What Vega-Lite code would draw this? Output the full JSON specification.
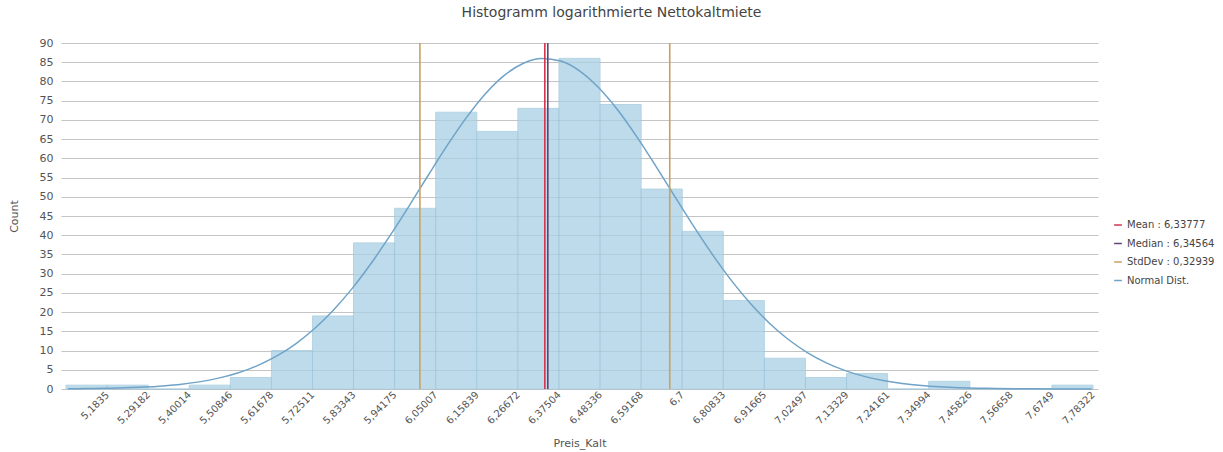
{
  "$schema": "https://vega.github.io/schema/vega-lite/v6.json",
  "width": 1037,
  "height": 346,
  "autosize": {"type": "none"},
  "padding": {"left": 61, "top": 43, "right": 125, "bottom": 63},
  "background": "white",
  "title": {
    "text": "Histogramm logarithmierte Nettokaltmiete",
    "font": "DejaVu Sans",
    "fontSize": 14,
    "fontWeight": "normal",
    "color": "#444444",
    "anchor": "middle",
    "dx": 32,
    "offset": 17
  },
  "config": {
    "view": {"stroke": null},
    "axis": {"labelFont": "DejaVu Sans", "titleFont": "DejaVu Sans", "labelColor": "#555555", "titleColor": "#555555", "titleFontWeight": "normal"},
    "axisY": {"tickCount": 18, "labelFontSize": 11, "labelPadding": 8, "ticks": false, "domain": false, "gridColor": "#c4c4c4", "gridWidth": 1, "titleFontSize": 11, "titlePadding": 20},
    "legend": {"labelFont": "DejaVu Sans"}
  },
  "datasets": {
    "bins": [
      {"bin_start": 5.07518, "bin_end": 5.1835, "count": 1},
      {"bin_start": 5.1835, "bin_end": 5.29182, "count": 1},
      {"bin_start": 5.29182, "bin_end": 5.40014, "count": 0},
      {"bin_start": 5.40014, "bin_end": 5.50846, "count": 1},
      {"bin_start": 5.50846, "bin_end": 5.61678, "count": 3},
      {"bin_start": 5.61678, "bin_end": 5.72511, "count": 10},
      {"bin_start": 5.72511, "bin_end": 5.83343, "count": 19},
      {"bin_start": 5.83343, "bin_end": 5.94175, "count": 38},
      {"bin_start": 5.94175, "bin_end": 6.05007, "count": 47},
      {"bin_start": 6.05007, "bin_end": 6.15839, "count": 72},
      {"bin_start": 6.15839, "bin_end": 6.26672, "count": 67},
      {"bin_start": 6.26672, "bin_end": 6.37504, "count": 73},
      {"bin_start": 6.37504, "bin_end": 6.48336, "count": 86},
      {"bin_start": 6.48336, "bin_end": 6.59168, "count": 74},
      {"bin_start": 6.59168, "bin_end": 6.7, "count": 52},
      {"bin_start": 6.7, "bin_end": 6.80833, "count": 41},
      {"bin_start": 6.80833, "bin_end": 6.91665, "count": 23},
      {"bin_start": 6.91665, "bin_end": 7.02497, "count": 8},
      {"bin_start": 7.02497, "bin_end": 7.13329, "count": 3},
      {"bin_start": 7.13329, "bin_end": 7.24161, "count": 4},
      {"bin_start": 7.24161, "bin_end": 7.34994, "count": 0},
      {"bin_start": 7.34994, "bin_end": 7.45826, "count": 2},
      {"bin_start": 7.45826, "bin_end": 7.56658, "count": 0},
      {"bin_start": 7.56658, "bin_end": 7.6749, "count": 0},
      {"bin_start": 7.6749, "bin_end": 7.78322, "count": 1}
    ],
    "curve": [
      {"x": 5.08, "y": 0.06, "series": "Normal Dist."},
      {"x": 5.13, "y": 0.1, "series": "Normal Dist."},
      {"x": 5.18, "y": 0.18, "series": "Normal Dist."},
      {"x": 5.23, "y": 0.3, "series": "Normal Dist."},
      {"x": 5.28, "y": 0.49, "series": "Normal Dist."},
      {"x": 5.33, "y": 0.8, "series": "Normal Dist."},
      {"x": 5.38, "y": 1.25, "series": "Normal Dist."},
      {"x": 5.43, "y": 1.92, "series": "Normal Dist."},
      {"x": 5.48, "y": 2.89, "series": "Normal Dist."},
      {"x": 5.53, "y": 4.24, "series": "Normal Dist."},
      {"x": 5.58, "y": 6.09, "series": "Normal Dist."},
      {"x": 5.63, "y": 8.54, "series": "Normal Dist."},
      {"x": 5.68, "y": 11.7, "series": "Normal Dist."},
      {"x": 5.73, "y": 15.66, "series": "Normal Dist."},
      {"x": 5.78, "y": 20.48, "series": "Normal Dist."},
      {"x": 5.83, "y": 26.18, "series": "Normal Dist."},
      {"x": 5.88, "y": 32.71, "series": "Normal Dist."},
      {"x": 5.93, "y": 39.94, "series": "Normal Dist."},
      {"x": 5.98, "y": 47.64, "series": "Normal Dist."},
      {"x": 6.03, "y": 55.54, "series": "Normal Dist."},
      {"x": 6.08, "y": 63.29, "series": "Normal Dist."},
      {"x": 6.13, "y": 70.45, "series": "Normal Dist."},
      {"x": 6.18, "y": 76.66, "series": "Normal Dist."},
      {"x": 6.23, "y": 81.5, "series": "Normal Dist."},
      {"x": 6.28, "y": 84.68, "series": "Normal Dist."},
      {"x": 6.33, "y": 85.97, "series": "Normal Dist."},
      {"x": 6.38, "y": 85.3, "series": "Normal Dist."},
      {"x": 6.43, "y": 82.71, "series": "Normal Dist."},
      {"x": 6.48, "y": 78.37, "series": "Normal Dist."},
      {"x": 6.53, "y": 72.57, "series": "Normal Dist."},
      {"x": 6.58, "y": 65.65, "series": "Normal Dist."},
      {"x": 6.63, "y": 58.06, "series": "Normal Dist."},
      {"x": 6.68, "y": 50.17, "series": "Normal Dist."},
      {"x": 6.73, "y": 42.36, "series": "Normal Dist."},
      {"x": 6.78, "y": 34.95, "series": "Normal Dist."},
      {"x": 6.83, "y": 28.18, "series": "Normal Dist."},
      {"x": 6.88, "y": 22.21, "series": "Normal Dist."},
      {"x": 6.93, "y": 17.11, "series": "Normal Dist."},
      {"x": 6.98, "y": 12.87, "series": "Normal Dist."},
      {"x": 7.03, "y": 9.47, "series": "Normal Dist."},
      {"x": 7.08, "y": 6.8, "series": "Normal Dist."},
      {"x": 7.13, "y": 4.78, "series": "Normal Dist."},
      {"x": 7.18, "y": 3.28, "series": "Normal Dist."},
      {"x": 7.23, "y": 2.2, "series": "Normal Dist."},
      {"x": 7.28, "y": 1.44, "series": "Normal Dist."},
      {"x": 7.33, "y": 0.92, "series": "Normal Dist."},
      {"x": 7.38, "y": 0.58, "series": "Normal Dist."},
      {"x": 7.43, "y": 0.35, "series": "Normal Dist."},
      {"x": 7.48, "y": 0.21, "series": "Normal Dist."},
      {"x": 7.53, "y": 0.12, "series": "Normal Dist."},
      {"x": 7.58, "y": 0.07, "series": "Normal Dist."},
      {"x": 7.63, "y": 0.04, "series": "Normal Dist."},
      {"x": 7.68, "y": 0.02, "series": "Normal Dist."},
      {"x": 7.73, "y": 0.01, "series": "Normal Dist."},
      {"x": 7.78, "y": 0.01, "series": "Normal Dist."}
    ],
    "stats": [
      {"x": 6.00838, "series": "StdDev : 0,32939"},
      {"x": 6.66716, "series": "StdDev : 0,32939"},
      {"x": 6.33777, "series": "Mean : 6,33777"},
      {"x": 6.34564, "series": "Median : 6,34564"}
    ]
  },
  "layer": [
    {
      "data": {"name": "bins"},
      "mark": {"type": "bar", "color": "#a8d0e3", "opacity": 0.75, "stroke": "#9cc6da", "strokeWidth": 1, "orient": "vertical"},
      "encoding": {
        "x": {
          "field": "bin_start",
          "type": "quantitative",
          "title": "Preis_Kalt",
          "scale": {"domain": [5.07518, 7.78322], "nice": false, "zero": false},
          "axis": {
            "values": [5.1835, 5.29182, 5.40014, 5.50846, 5.61678, 5.72511, 5.83343, 5.94175, 6.05007, 6.15839, 6.26672, 6.37504, 6.48336, 6.59168, 6.7, 6.80833, 6.91665, 7.02497, 7.13329, 7.24161, 7.34994, 7.45826, 7.56658, 7.6749, 7.78322],
            "labelExpr": "replace(format(datum.value, ''), '.', ',')",
            "labelAngle": -45,
            "labelAlign": "right",
            "labelBaseline": "middle",
            "labelFontSize": 10,
            "labelPadding": 4,
            "labelFlush": false,
            "labelOverlap": false,
            "ticks": false,
            "domain": false,
            "grid": false,
            "titleFontSize": 11,
            "titlePadding": 12
          }
        },
        "x2": {"field": "bin_end"},
        "y": {
          "field": "count",
          "type": "quantitative",
          "title": "Count",
          "scale": {"domain": [0, 90], "nice": false}
        },
        "y2": {"datum": 0}
      }
    },
    {
      "data": {"name": "curve"},
      "mark": {"type": "line", "strokeWidth": 1.5, "interpolate": "monotone"},
      "encoding": {
        "x": {"field": "x", "type": "quantitative", "title": "Preis_Kalt"},
        "y": {"field": "y", "type": "quantitative", "title": "Count"},
        "color": {"field": "series", "type": "nominal"}
      }
    },
    {
      "data": {"name": "stats"},
      "mark": {"type": "rule", "strokeWidth": 1.6},
      "encoding": {
        "x": {"field": "x", "type": "quantitative", "title": "Preis_Kalt"},
        "color": {
          "field": "series",
          "type": "nominal",
          "scale": {
            "domain": ["Mean : 6,33777", "Median : 6,34564", "StdDev : 0,32939", "Normal Dist."],
            "range": ["#d2354f", "#5e4477", "#c9a066", "#6fa3c8"]
          },
          "legend": {
            "title": null,
            "orient": "none",
            "legendX": 1052,
            "legendY": 177,
            "symbolType": "stroke",
            "symbolSize": 60,
            "symbolStrokeWidth": 1.5,
            "labelFontSize": 10,
            "labelColor": "#444444",
            "rowPadding": 8.5,
            "symbolOffset": 0
          }
        }
      }
    }
  ]
}
